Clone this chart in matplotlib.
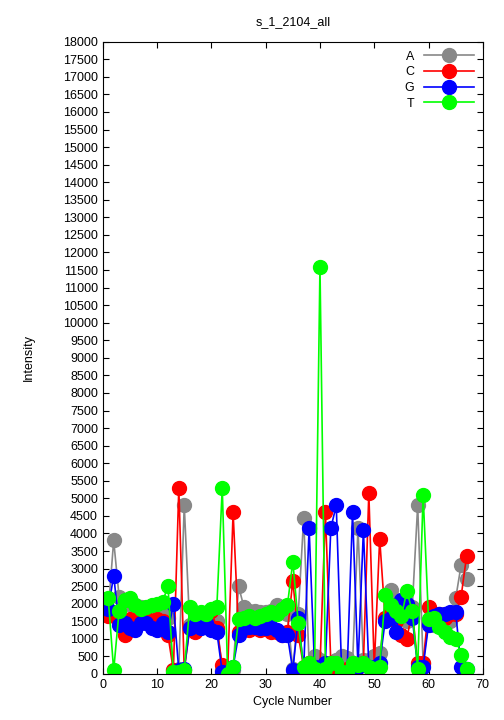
import numpy as np
import matplotlib
matplotlib.use("Agg")
import matplotlib.pyplot as plt

plt.rcParams['font.family'] = ['Liberation Sans', 'DejaVu Sans']

cycles = np.arange(1, 68)

A = [1800, 3800, 2200, 2000, 2000, 1950, 1900, 1850, 1800, 1750,
     1700, 1600, 100, 150, 4800, 1400, 1450, 1500, 1500, 1700,
     1500, 100, 50, 100, 2500, 1900, 1800, 1800, 1750, 1750,
     1800, 1950, 1800, 1700, 150, 1700, 4450, 300, 500, 400,
     300, 300, 400, 500, 450, 300, 4150, 400, 400, 500,
     600, 1600, 2400, 2100, 1900, 1500, 1900, 4800, 300, 1500,
     1400, 1450, 1700, 1500, 2150, 3100, 2700]
C = [1650, 1700, 1500, 1100, 1550, 1500, 1550, 1600, 1500, 1550,
     1500, 1100, 100, 5300, 100, 1300, 1200, 1350, 1600, 1800,
     1300, 250, 100, 4600, 1200, 1300, 1250, 1300, 1250, 1300,
     1200, 1200, 1100, 1200, 2650, 1100, 200, 300, 50, 200,
     4600, 300, 200, 100, 150, 200, 200, 300, 5150, 200,
     3850, 1600, 1700, 1500, 1100, 1000, 1800, 300, 300, 1900,
     1700, 1700, 1600, 1700, 1700, 2200, 3350]
G = [1850, 2800, 1400, 1450, 1300, 1250, 1450, 1450, 1300, 1250,
     1450, 1200, 2000, 100, 150, 1300, 1400, 1300, 1450, 1250,
     1200, 50, 50, 200, 1100, 1300, 1350, 1350, 1300, 1300,
     1350, 1250, 1100, 1100, 100, 1600, 150, 4150, 200, 150,
     300, 4150, 4800, 50, 50, 4600, 200, 4100, 200, 200,
     300, 1500, 1600, 1200, 2100, 2000, 1600, 200, 200, 1400,
     1650, 1700, 1700, 1750, 1750, 200, 150]
T = [2150, 100, 1800, 2100, 2150, 1950, 1850, 1900, 1950, 2000,
     2050, 2500, 50, 50, 100, 1900, 1700, 1750, 1700, 1850,
     1900, 5300, 0, 200, 1550, 1600, 1650, 1600, 1650, 1700,
     1750, 1700, 1850, 1950, 3200, 1450, 200, 300, 150, 11600,
     150, 300, 300, 50, 50, 300, 250, 300, 200, 100,
     200, 2250, 1950, 1800, 1650, 2350, 1800, 150, 5100, 1550,
     1600, 1350, 1200, 1050, 1000, 550, 150]

series = [("A", A, "#888888"), ("C", C, "#ff0000"),
          ("G", G, "#0000ff"), ("T", T, "#00ff00")]

fig = plt.figure(figsize=(5.04, 7.2), dpi=100)
ax = fig.add_axes([0.204, 0.064, 0.754, 0.878])

for name, vals, col in series:
    ax.plot(cycles, vals, "-o", color=col, lw=1.2, ms=10, label=name)

ax.set_xlim(0, 70)
ax.set_ylim(0, 18000)
ax.set_xticks(np.arange(0, 71, 10))
ax.set_yticks(np.arange(0, 18001, 500))
ax.tick_params(direction="in", top=True, right=True, labelsize=9, length=4)
ax.set_title("s_1_2104_all", fontsize=9, pad=12)
ax.set_xlabel("Cycle Number", fontsize=9)
ax.set_ylabel("Intensity", fontsize=9, labelpad=20)

ax.legend(loc="upper right", frameon=False, markerfirst=False, fontsize=9,
          handlelength=4, labelspacing=0.3, borderaxespad=0.3)

fig.savefig("out.png", dpi=100)
